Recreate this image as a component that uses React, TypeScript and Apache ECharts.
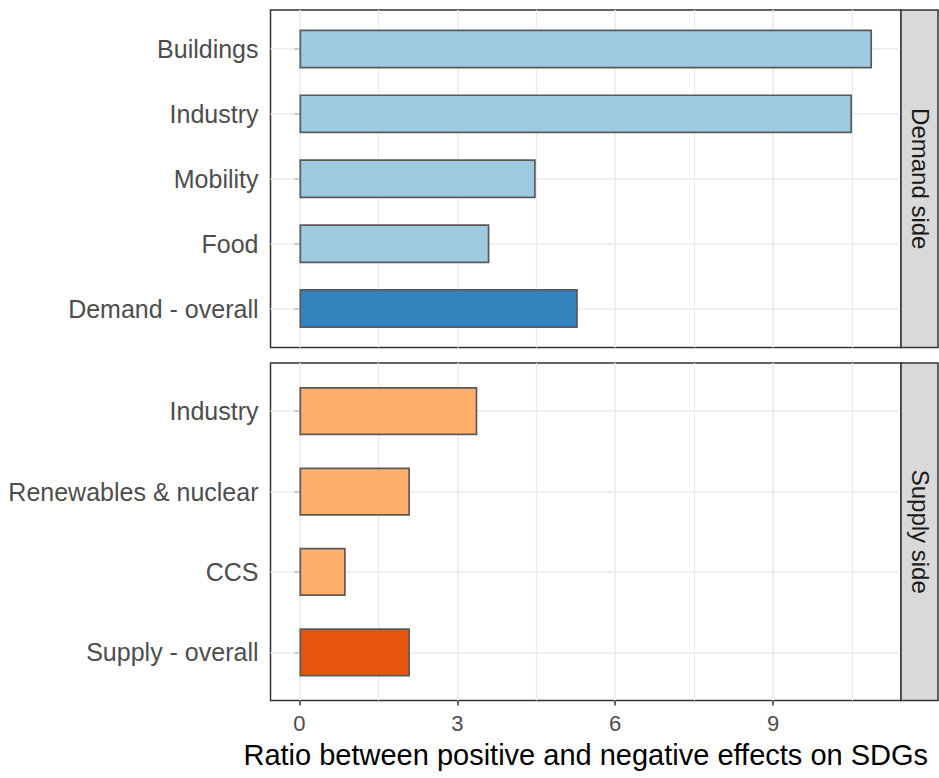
import React, { useEffect, useRef } from "react";
import * as echarts from "echarts";

const demandCategories = ["Buildings", "Industry", "Mobility", "Food", "Demand - overall"];
const demandValues = [10.88, 10.5, 4.49, 3.61, 5.29];
const supplyCategories = ["Industry", "Renewables & nuclear", "CCS", "Supply - overall"];
const supplyValues = [3.38, 2.1, 0.88, 2.1];
const xTicks = [0, 3, 6, 9];
const xMinor = [1.5, 4.5, 7.5, 10.5];
const panelNames = ["Demand side", "Supply side"];
const X_MIN = -0.55;
const X_MAX = 11.43;

const FONT = "Liberation Sans, Arial, sans-serif";
const GRID_COLOR = "#EBEBEB";
const BORDER = "#333333";

const PANEL_LEFT = 270.5;
const PANEL_W = 630.5;
const PANELS = [
  { top: 10, height: 337.5, n: demandCategories.length },
  { top: 363, height: 337.5, n: supplyCategories.length },
];

function barGrid(p: { top: number; height: number; n: number }) {
  const unit = p.height / (p.n - 1 + 1.2);
  const top = p.top + 0.6 * unit - 0.5 * unit;
  return { left: PANEL_LEFT, width: PANEL_W, top, height: p.n * unit, show: false };
}

function vLines() {
  return [
    ...xTicks.map((v) => ({ xAxis: v, lineStyle: { width: 1.6 } })),
    ...xMinor.map((v) => ({ xAxis: v, lineStyle: { width: 1.2 } })),
  ];
}

function gridLineSeries(xi: number, data: any[]) {
  return {
    type: "line",
    xAxisIndex: xi,
    yAxisIndex: xi,
    data: [],
    silent: true,
    z: 1,
    markLine: {
      z: 1,
      silent: true,
      symbol: ["none", "none"],
      label: { show: false },
      emphasis: { disabled: true },
      lineStyle: { color: GRID_COLOR, type: "solid", width: 1.6 },
      data,
    },
  };
}

function barData(cats: string[], vals: number[], light: string, dark: string) {
  return vals.map((v, i) => ({
    value: v,
    itemStyle: { color: cats[i].includes("overall") ? dark : light },
  }));
}

export default function App() {
  const ref = useRef<HTMLDivElement>(null);
  useEffect(() => {
    if (!ref.current) return;
    const chart = echarts.init(ref.current, undefined, { renderer: "svg" });
    const hiddenX = (gi: number, show = false) => ({
      type: "value",
      gridIndex: gi,
      min: X_MIN,
      max: X_MAX,
      show,
      splitLine: { show: false },
    });
    const catAxis = (gi: number, data: string[]) => ({
      type: "category",
      gridIndex: gi,
      data,
      inverse: true,
      axisLine: { show: false },
      axisTick: { show: true, alignWithLabel: true, length: 5, lineStyle: { color: BORDER, width: 1.5 } },
      axisLabel: { color: "#4D4D4D", fontSize: 25, margin: 12, fontFamily: FONT },
      splitLine: { show: false },
    });
    const option: any = {
      animation: false,
      textStyle: { fontFamily: FONT },
      grid: [
        { left: PANEL_LEFT, width: PANEL_W, top: PANELS[0].top, height: PANELS[0].height, show: true, borderColor: BORDER, borderWidth: 1.5, backgroundColor: "transparent" },
        { left: PANEL_LEFT, width: PANEL_W, top: PANELS[1].top, height: PANELS[1].height, show: true, borderColor: BORDER, borderWidth: 1.5, backgroundColor: "transparent" },
        barGrid(PANELS[0]),
        barGrid(PANELS[1]),
      ],
      xAxis: [
        hiddenX(0),
        {
          type: "value",
          gridIndex: 1,
          min: X_MIN,
          max: X_MAX,
          axisLine: { show: false },
          splitLine: { show: false },
          axisTick: { show: true, customValues: xTicks, length: 5, lineStyle: { color: BORDER, width: 1.5 } },
          axisLabel: { customValues: xTicks, color: "#4D4D4D", fontSize: 22, margin: 12, fontFamily: FONT },
          name: "Ratio between positive and negative effects on SDGs",
          nameLocation: "middle",
          nameGap: 40,
          nameTextStyle: { color: "#000000", fontSize: 29, fontFamily: FONT },
        },
        hiddenX(2),
        hiddenX(3),
      ],
      yAxis: [
        { type: "value", gridIndex: 0, min: 0, max: 1, show: false },
        { type: "value", gridIndex: 1, min: 0, max: 1, show: false },
        catAxis(2, demandCategories),
        catAxis(3, supplyCategories),
      ],
      series: [
        gridLineSeries(0, vLines()),
        gridLineSeries(1, vLines()),
        gridLineSeries(2, demandCategories.map((c) => ({ yAxis: c }))),
        gridLineSeries(3, supplyCategories.map((c) => ({ yAxis: c }))),
        {
          type: "bar",
          xAxisIndex: 2,
          yAxisIndex: 2,
          barWidth: "60%",
          z: 3,
          itemStyle: { borderColor: "#5A5A5A", borderWidth: 1.7 },
          data: barData(demandCategories, demandValues, "#9ECAE1", "#3182BD"),
        },
        {
          type: "bar",
          xAxisIndex: 3,
          yAxisIndex: 3,
          barWidth: "60%",
          z: 3,
          itemStyle: { borderColor: "#5A5A5A", borderWidth: 1.7 },
          data: barData(supplyCategories, supplyValues, "#FDAE6B", "#E6550D"),
        },
      ],
      graphic: PANELS.flatMap((p, i) => [
        {
          type: "rect",
          shape: { x: PANEL_LEFT + PANEL_W, y: p.top, width: 37, height: p.height },
          style: { fill: "#D9D9D9", stroke: BORDER, lineWidth: 1.5 },
          z: 10,
        },
        {
          type: "text",
          x: PANEL_LEFT + PANEL_W + 19,
          y: p.top + p.height / 2,
          rotation: -Math.PI / 2,
          style: {
            text: panelNames[i],
            x: 0,
            y: 0,
            align: "center",
            verticalAlign: "middle",
            fill: "#1A1A1A",
            fontSize: 24,
            fontFamily: FONT,
          },
          z: 11,
        },
      ]),
    };
    chart.setOption(option);
    return () => chart.dispose();
  }, []);
  return (
    <div
      ref={ref}
      style={{ position: "fixed", left: 0, top: 0, width: 939, height: 778, background: "#ffffff" }}
    />
  );
}
